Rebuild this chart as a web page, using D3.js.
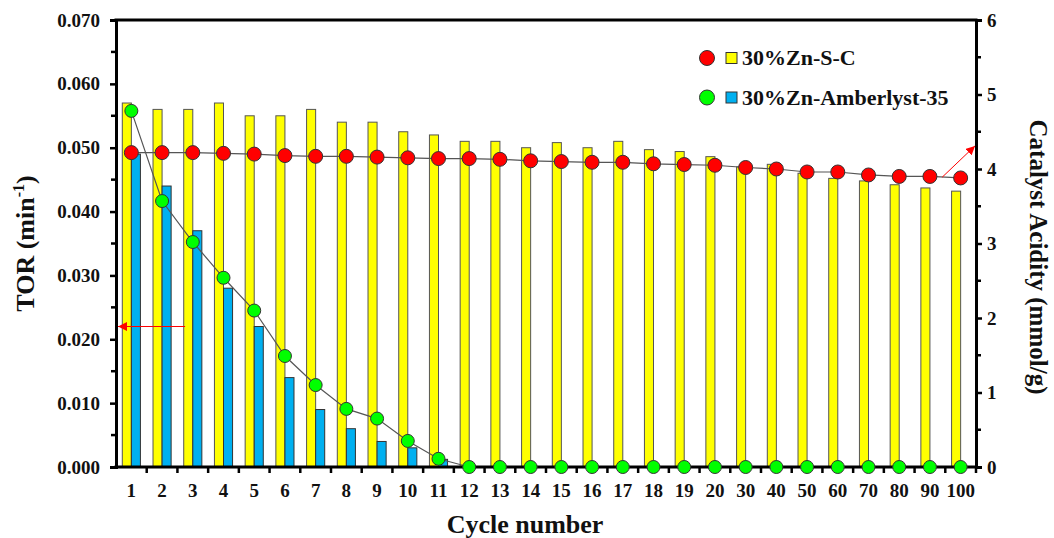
<!DOCTYPE html>
<html>
<head>
<meta charset="utf-8">
<script src="https://cdn.jsdelivr.net/npm/d3@7"></script>
<style>
  html, body { margin: 0; padding: 0; background: #fff; }
  svg { display: block; }
  svg text { font-family: "Liberation Serif", "Times New Roman", serif !important; font-weight: bold; }
</style>
</head>
<body>
<svg id="chart" width="1054" height="538"></svg>
<script>
// Cycle numbers on the x axis
const cycles = ["1","2","3","4","5","6","7","8","9","10","11","12","13","14","15","16","17","18","19","20","30","40","50","60","70","80","90","100"];

// Turnover rate (min^-1), left axis
const torZnSC = [0.057,0.056,0.056,0.057,0.055,0.055,0.056,0.054,0.054,0.0525,0.052,0.051,0.051,0.050,0.0508,0.050,0.051,0.0497,0.0494,0.0486,0.0470,0.0474,0.0460,0.0452,0.0448,0.0442,0.0437,0.0432];
const torAmberlyst = [0.049,0.044,0.037,0.028,0.022,0.014,0.009,0.006,0.004,0.003,0.0012,0,0,0,0,0,0,0,0,0,0,0,0,0,0,0,0,0];

// Catalyst acidity (mmol/g), right axis
const acidZnSC = [4.22,4.22,4.22,4.21,4.20,4.18,4.17,4.17,4.16,4.15,4.14,4.14,4.13,4.11,4.10,4.09,4.09,4.07,4.06,4.05,4.02,4.00,3.96,3.96,3.92,3.90,3.90,3.88];
const acidAmberlyst = [4.78,3.57,3.02,2.54,2.10,1.49,1.10,0.78,0.65,0.35,0.11,0,0,0,0,0,0,0,0,0,0,0,0,0,0,0,0,0];

// Axis ticks
const torTicks = [0,0.01,0.02,0.03,0.04,0.05,0.06,0.07];
const torMinor = [0.005,0.015,0.025,0.035,0.045,0.055,0.065];
const acidTicks = [0,1,2,3,4,5,6];
const acidMinor = [0.5,1.5,2.5,3.5,4.5,5.5];

const seriesNames = ["30%Zn-S-C", "30%Zn-Amberlyst-35"];

const W = 1054, H = 538;
const m = { left: 116, right: 78, top: 20, bottom: 71 };
const svg = d3.select("#chart");
const FONT = "'Liberation Serif', 'Times New Roman', serif";

const x = d3.scaleBand().domain(cycles).range([m.left, W - m.right]).padding(0);
const yL = d3.scaleLinear().domain([0, 0.07]).range([H - m.bottom, m.top]);
const yR = d3.scaleLinear().domain([0, 6]).range([H - m.bottom, m.top]);
const cx = c => x(c) + x.bandwidth() / 2;
const barW = x.bandwidth() * 0.295;

const colYellow = "#ffff00", colBlue = "#00b0f0", colRed = "#ff0000", colGreen = "#00ff00";

// Bars
const gBars = svg.append("g");
gBars.selectAll("rect.zn").data(cycles).join("rect")
  .attr("x", (c) => cx(c) - barW)
  .attr("y", (c, i) => yL(torZnSC[i]))
  .attr("width", barW)
  .attr("height", (c, i) => yL(0) - yL(torZnSC[i]))
  .attr("fill", colYellow).attr("stroke", "#555").attr("stroke-width", 1);
gBars.selectAll("rect.amb").data(cycles.filter((c, i) => torAmberlyst[i] > 0)).join("rect")
  .attr("x", (c) => cx(c))
  .attr("y", (c) => yL(torAmberlyst[cycles.indexOf(c)]))
  .attr("width", barW)
  .attr("height", (c) => yL(0) - yL(torAmberlyst[cycles.indexOf(c)]))
  .attr("fill", colBlue).attr("stroke", "#333").attr("stroke-width", 1);

// Lines
const line = d3.line().x(d => cx(d[0])).y(d => yR(d[1]));
svg.append("path").datum(cycles.map((c, i) => [c, acidAmberlyst[i]]))
  .attr("d", line).attr("fill", "none").attr("stroke", "#555").attr("stroke-width", 1.2);
svg.append("path").datum(cycles.map((c, i) => [c, acidZnSC[i]]))
  .attr("d", line).attr("fill", "none").attr("stroke", "#555").attr("stroke-width", 1.2);

// Axes frame
const axisW = 3;
svg.append("line").attr("x1", m.left - 1.5).attr("x2", W - m.right + 1.5)
  .attr("y1", yL(0)).attr("y2", yL(0)).attr("stroke", "#000").attr("stroke-width", axisW);
svg.append("line").attr("x1", m.left - 1.5).attr("x2", W - m.right + 1.5)
  .attr("y1", m.top).attr("y2", m.top).attr("stroke", "#000").attr("stroke-width", axisW);

function styleTicks(g) {
  g.attr("font-family", FONT);
  g.selectAll("text").attr("font-size", 19).attr("font-weight", "bold").attr("fill", "#111")
    .attr("font-family", FONT);
}

// Left axis
const gL = svg.append("g").attr("transform", `translate(${m.left},0)`)
  .call(d3.axisLeft(yL).tickValues(torTicks).tickFormat(d3.format(".3f")).tickSize(6).tickPadding(10));
gL.select(".domain").attr("stroke-width", axisW);
gL.selectAll(".tick line").attr("stroke-width", 2.5);
styleTicks(gL);
gL.selectAll(".minor").data(torMinor).join("line").attr("class", "minor")
  .attr("x1", -5).attr("x2", 0).attr("y1", d => yL(d)).attr("y2", d => yL(d))
  .attr("stroke", "#000").attr("stroke-width", 2.5);

// Right axis
const gR = svg.append("g").attr("transform", `translate(${W - m.right},0)`)
  .call(d3.axisRight(yR).tickValues(acidTicks).tickFormat(d3.format("d")).tickSize(6).tickPadding(5));
gR.select(".domain").attr("stroke-width", axisW);
gR.selectAll(".tick line").attr("stroke-width", 2.5);
styleTicks(gR);
gR.selectAll(".minor").data(acidMinor).join("line").attr("class", "minor")
  .attr("x1", 0).attr("x2", 5).attr("y1", d => yR(d)).attr("y2", d => yR(d))
  .attr("stroke", "#000").attr("stroke-width", 2.5);

// Bottom axis: labels at centres, ticks at band boundaries
const gB = svg.append("g").attr("transform", `translate(0,${yL(0)})`)
  .call(d3.axisBottom(x).tickSize(0).tickPadding(17));
gB.select(".domain").remove();
styleTicks(gB);
gB.selectAll(".bt").data(cycles.slice(1).concat(["__end"])).join("line").attr("class", "bt")
  .attr("x1", c => c === "__end" ? W - m.right : x(c))
  .attr("x2", c => c === "__end" ? W - m.right : x(c))
  .attr("y1", 0).attr("y2", 6).attr("stroke", "#000").attr("stroke-width", 2.5);

// Markers
svg.append("g").selectAll("circle").data(cycles).join("circle")
  .attr("cx", c => cx(c)).attr("cy", (c, i) => yR(acidAmberlyst[i])).attr("r", 6.5)
  .attr("fill", colGreen).attr("stroke", "#333").attr("stroke-width", 1);
svg.append("g").selectAll("circle").data(cycles).join("circle")
  .attr("cx", c => cx(c)).attr("cy", (c, i) => yR(acidZnSC[i])).attr("r", 7)
  .attr("fill", colRed).attr("stroke", "#333").attr("stroke-width", 1);

// Arrows pointing to the respective axes
const defs = svg.append("defs");
defs.append("marker").attr("id", "arrowRed").attr("viewBox", "0 0 10 10")
  .attr("refX", 10).attr("refY", 5).attr("markerWidth", 9).attr("markerHeight", 9)
  .attr("markerUnits", "userSpaceOnUse").attr("orient", "auto")
  .append("path").attr("d", "M0,0 L10,5 L0,10 Z").attr("fill", colRed);

svg.append("line")
  .attr("x1", x("3") + x.bandwidth() * 0.25).attr("y1", yL(0.022))
  .attr("x2", m.left + 2).attr("y2", yL(0.022))
  .attr("stroke", colRed).attr("stroke-width", 1).attr("marker-end", "url(#arrowRed)");
svg.append("line")
  .attr("x1", x("90") + x.bandwidth() * 0.9).attr("y1", yR(3.89))
  .attr("x2", W - m.right - 1).attr("y2", yR(4.31))
  .attr("stroke", colRed).attr("stroke-width", 1).attr("marker-end", "url(#arrowRed)");

// Axis titles
const left = svg.append("text").attr("transform", `translate(34,${(m.top + yL(0)) / 2}) rotate(-90)`)
  .attr("text-anchor", "middle").attr("font-size", 26).attr("fill", "#111");
left.append("tspan").text("TOR (min");
left.append("tspan").attr("dy", -10).attr("font-size", 16).text("-1");
left.append("tspan").attr("dy", 10).text(")");

svg.append("text").attr("transform", `translate(1030,257) rotate(90)`)
  .attr("text-anchor", "middle").attr("font-size", 25).attr("fill", "#111")
  .text("Catalyst Acidity (mmol/g)");

svg.append("text").attr("x", 525).attr("y", 533)
  .attr("text-anchor", "middle").attr("font-size", 26).attr("fill", "#111")
  .text("Cycle number");

// Legend
const legend = svg.append("g");
const legendRows = [
  { name: seriesNames[0], dot: colRed, box: colYellow, y: 58 },
  { name: seriesNames[1], dot: colGreen, box: colBlue, y: 97.5 }
];
legendRows.forEach(r => {
  legend.append("circle").attr("cx", 707).attr("cy", r.y).attr("r", 7.5)
    .attr("fill", r.dot).attr("stroke", "#333").attr("stroke-width", 1);
  legend.append("rect").attr("x", 726).attr("y", r.y - 5.5).attr("width", 11).attr("height", 11)
    .attr("fill", r.box).attr("stroke", "#333").attr("stroke-width", 1);
  legend.append("text").attr("x", 742).attr("y", r.y + 7).attr("font-size", 22)
    .attr("fill", "#111").text(r.name);
});
</script>
</body>
</html>
